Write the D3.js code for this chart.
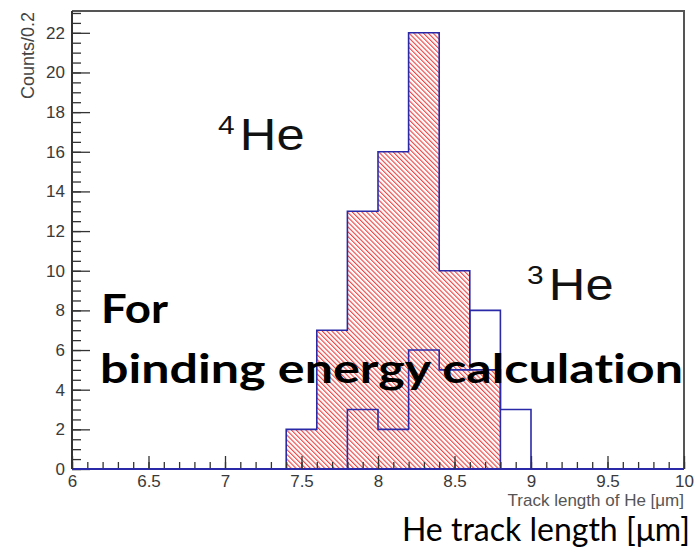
<!DOCTYPE html>
<html>
<head>
<meta charset="utf-8">
<script src="https://cdn.jsdelivr.net/npm/d3@7"></script>
<style>
body { margin: 0; background: #fff; }
text { font-variant-ligatures: none; }
</style>
</head>
<body>
<script>
// histogram bins, 0.2 wide, from 6 to 10
var binEdges = d3.range(0, 21).map(function(i) { return +(6 + i * 0.2).toFixed(1); });

// 4He counts (red hatched)
var he4Counts = [0,0,0,0,0,0,0,2,7,13,16,22,10,5,0,0,0,0,0,0];
// 3He counts (blue outline)
var he3Counts = [0,0,0,0,0,0,0,0,0,3,2,6,5,8,3,0,0,0,0,0];

var xMajorTicks = [6, 6.5, 7, 7.5, 8, 8.5, 9, 9.5, 10];
var yMajorTicks = [0, 2, 4, 6, 8, 10, 12, 14, 16, 18, 20, 22];

var width = 698, height = 548;
var frameL = 72, frameR = 684, frameT = 11, frameB = 469;

var svg = d3.select("body").append("svg")
    .attr("width", width)
    .attr("height", height);

var x = d3.scaleLinear().domain([6, 10]).range([frameL, frameR]);
var y = d3.scaleLinear().domain([0, 23.1]).range([frameB, frameT]);

// hatch pattern
var defs = svg.append("defs");
var pat = defs.append("pattern")
    .attr("id", "hatch")
    .attr("patternUnits", "userSpaceOnUse")
    .attr("width", 3.4)
    .attr("height", 10)
    .attr("patternTransform", "rotate(-45)");
pat.append("line")
    .attr("x1", 0.6).attr("y1", 0)
    .attr("x2", 0.6).attr("y2", 10)
    .attr("stroke", "#ea3434")
    .attr("stroke-width", 1.05);

// step path for a histogram
function stepPath(counts) {
  var p = d3.path();
  p.moveTo(x(binEdges[0]), y(0));
  counts.forEach(function(c, i) {
    p.lineTo(x(binEdges[i]), y(c));
    p.lineTo(x(binEdges[i + 1]), y(c));
  });
  p.lineTo(x(binEdges[binEdges.length - 1]), y(0));
  return p.toString();
}

// 4He filled
svg.append("path")
    .attr("d", stepPath(he4Counts) + "Z")
    .attr("fill", "url(#hatch)")
    .attr("stroke", "none");
svg.append("path")
    .attr("d", stepPath(he4Counts))
    .attr("fill", "none")
    .attr("stroke", "#2a2aa8")
    .attr("stroke-width", 1.6);

// 3He outline
svg.append("path")
    .attr("d", stepPath(he3Counts))
    .attr("fill", "none")
    .attr("stroke", "#2a2aa8")
    .attr("stroke-width", 1.6);

// frame top and right
svg.append("path")
    .attr("d", "M" + frameL + "," + frameT + "H" + frameR + "V" + frameB)
    .attr("fill", "none")
    .attr("stroke", "#555")
    .attr("stroke-width", 2);

// y axis
var yMinor = svg.append("g")
    .attr("transform", "translate(" + frameL + ",0)")
    .call(d3.axisLeft(y).tickValues(d3.range(0, 23.1, 0.5)).tickSize(-9).tickFormat(""));
yMinor.select(".domain").remove();

var yAxis = svg.append("g")
    .attr("transform", "translate(" + frameL + ",0)")
    .call(d3.axisLeft(y).tickValues(yMajorTicks).tickSize(-18).tickPadding(7).tickFormat(d3.format("d")));
yAxis.select(".domain").attr("d", "M0," + frameT + "V" + frameB).attr("stroke", "#333").attr("stroke-width", 2);

// x axis
var xMinor = svg.append("g")
    .attr("transform", "translate(0," + frameB + ")")
    .call(d3.axisBottom(x).tickValues(d3.range(6, 10.01, 0.1)).tickSize(-7).tickFormat(""));
xMinor.select(".domain").remove();

var xAxis = svg.append("g")
    .attr("transform", "translate(0," + frameB + ")")
    .call(d3.axisBottom(x).tickValues(xMajorTicks).tickSize(-13).tickPadding(4).tickFormat(function(d) { return d; }));
xAxis.select(".domain").attr("d", "M" + frameL + ",0H" + frameR).attr("stroke", "#2a2aa8").attr("stroke-width", 2);

svg.selectAll(".tick line").attr("stroke", "#333").attr("stroke-width", 1.3);
svg.selectAll(".tick text")
    .attr("font-family", "Liberation Sans, Arial, sans-serif")
    .attr("fill", "#3a3a3a");
yAxis.selectAll(".tick text").attr("font-size", 17);
xAxis.selectAll(".tick text").attr("font-size", 17).attr("dy", "0.8em");

// axis titles
svg.append("text")
    .attr("transform", "translate(34,12) rotate(-90)")
    .attr("text-anchor", "end")
    .attr("font-family", "Liberation Sans, Arial, sans-serif")
    .attr("font-size", 18)
    .attr("fill", "#444")
    .text("Counts/0.2");

svg.append("text")
    .attr("x", 684)
    .attr("y", 506)
    .attr("text-anchor", "end")
    .attr("font-family", "Liberation Sans, Arial, sans-serif")
    .attr("font-size", 17)
    .attr("fill", "#555")
    .text("Track length of He [\u03bcm]");

// isotope labels
function isotope(xp, yp, mass) {
  var g = svg.append("g")
      .attr("transform", "translate(" + xp + "," + yp + ") scale(1.15,1)");
  g.append("text")
      .attr("x", 0).attr("y", -16)
      .attr("font-family", "Liberation Sans, Arial, sans-serif")
      .attr("font-size", 26)
      .attr("fill", "#111")
      .text(mass);
  g.append("text")
      .attr("x", 19).attr("y", 0)
      .attr("font-family", "Liberation Sans, Arial, sans-serif")
      .attr("font-size", 44)
      .attr("fill", "#111")
      .text("He");
}
isotope(218, 150, "4");
isotope(527, 300, "3");

// annotation
svg.append("text")
    .attr("x", 101)
    .attr("y", 323)
    .attr("font-family", "Lato, sans-serif")
    .attr("font-weight", "bold")
    .attr("font-size", 40)
    .attr("textLength", 67)
    .attr("lengthAdjust", "spacingAndGlyphs")
    .attr("fill", "#000")
    .text("For");

svg.append("text")
    .attr("x", 100)
    .attr("y", 383)
    .attr("font-family", "Lato, sans-serif")
    .attr("font-weight", "bold")
    .attr("font-size", 40)
    .attr("textLength", 583)
    .attr("lengthAdjust", "spacingAndGlyphs")
    .attr("fill", "#000")
    .text("binding energy calculation");

svg.append("text")
    .attr("x", 690)
    .attr("y", 541)
    .attr("text-anchor", "end")
    .attr("font-family", "Lato, sans-serif")
    .attr("font-size", 32)
    .attr("fill", "#000")
    .text("He track length [\u03bcm]");
</script>
</body>
</html>
